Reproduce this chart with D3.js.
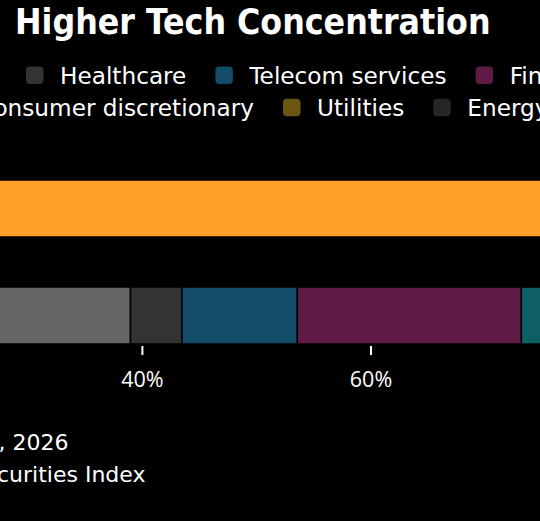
<!DOCTYPE html>
<html>
<head>
    <meta charset="utf-8">
    <title>Higher Tech Concentration</title>
    <script src="https://cdn.jsdelivr.net/npm/d3@7"></script>
    <style>
        html, body {
            margin: 0;
            padding: 0;
            background: #000;
        }

        svg {
            display: block;
            font-family: "DejaVu Sans", sans-serif;
        }

        .title {
            font-family: "DejaVu Sans Condensed", "DejaVu Sans", sans-serif;
            font-stretch: condensed;
            font-weight: bold;
            font-size: 35.3px;
            fill: #fff;
        }

        .legend text {
            font-size: 23.2px;
            fill: #fff;
        }

        .note {
            font-size: 22px;
            fill: #fff;
        }

        .axis text {
            font-family: "Open Sans", sans-serif;
            font-size: 21.5px;
            fill: #fff;
        }

        .axis line {
            stroke: #fff;
            stroke-width: 2;
        }
    </style>
</head>
<body>
<svg width="540" height="521"></svg>
<script>

var markets = ["Index", "Benchmark"],
    sectors = ["Technology", "Industrials", "Healthcare", "Telecom services", "Financials", "Materials",
        "Consumer staples", "Consumer discretionary", "Utilities", "Energy", "Real estate"],
    sectorColors = ["#ffa028", "#666666", "#333333", "#134c68", "#5f1a45", "#0e5f63",
        "#8a8a8a", "#4a4a4a", "#6b5614", "#262626", "#9c6b2a"],
    // share of index weight, %
    indexWeights = [80, 3, 1, 2, 9, 2, 1, 1, 0.5, 0.3, 0.2],
    benchmarkWeights = [24, 15, 4.5, 10.1, 19.6, 6, 4, 9, 3.5, 2.3, 2],
    tickValues = [0, 20, 40, 60, 80, 100],
    legendRows = [
        ["Technology", "Industrials", "Healthcare", "Telecom services", "Financials", "Materials"],
        ["Consumer staples", "Consumer discretionary", "Utilities", "Energy", "Real estate"]
    ],
    noteLines = ["Data as of Jan. 2, 2026", "Source: Bloomberg, Securities Index"];

var svg = d3.select('svg');

var rows = markets.map(function (m, i) {
    var row = {market: m};
    var w = i === 0 ? indexWeights : benchmarkWeights;
    sectors.forEach(function (s, j) {
        row[s] = w[j];
    });
    return row;
});

var x = d3.scaleLinear()
    .domain([0, 100])
    .range([-315.3, 827.7]);

var y = d3.scaleBand()
    .domain(markets)
    .range([180, 344])
    .paddingInner(50 / 107)
    .paddingOuter(0);

var color = d3.scaleOrdinal()
    .domain(sectors)
    .range(sectorColors);

var series = d3.stack().keys(sectors)(rows);

// title
svg.append('text')
    .attr('class', 'title')
    .attr('x', 15)
    .attr('y', 34)
    .text('Higher Tech Concentration');

// legend, each row lined up on one visible item
function drawLegendRow(items, baseline, anchorItem, anchorX) {
    var g = svg.append('g').attr('class', 'legend');
    var cursor = 0, anchorPos = 0;
    items.forEach(function (name) {
        var item = g.append('g').attr('transform', 'translate(' + cursor + ',0)');
        item.append('rect')
            .attr('x', 0)
            .attr('y', baseline - 17)
            .attr('width', 17.5)
            .attr('height', 17.5)
            .attr('rx', 4)
            .attr('fill', color(name));
        var t = item.append('text')
            .attr('x', 34)
            .attr('y', baseline)
            .text(name);
        if (name === anchorItem) anchorPos = cursor;
        cursor += 34 + t.node().getComputedTextLength() + 29;
    });
    g.attr('transform', 'translate(' + (anchorX - anchorPos) + ',0)');
}

drawLegendRow(legendRows[0], 83.5, 'Healthcare', 26);
drawLegendRow(legendRows[1], 115.8, 'Utilities', 283);

// bars
svg.append('g')
    .selectAll('g')
    .data(series)
    .join('g')
    .attr('fill', function (d) {
        return color(d.key);
    })
    .selectAll('rect')
    .data(function (d) {
        return d;
    })
    .join('rect')
    .attr('x', function (d) {
        return x(d[0]);
    })
    .attr('y', function (d) {
        return y(d.data.market);
    })
    .attr('width', function (d) {
        return Math.max(0, x(d[1]) - x(d[0]));
    })
    .attr('height', y.bandwidth())
    .attr('stroke', '#000')
    .attr('stroke-width', 1.5);

// x axis
var axis = svg.append('g')
    .attr('class', 'axis')
    .attr('transform', 'translate(0,346)')
    .call(d3.axisBottom(x)
        .tickValues(tickValues)
        .tickSize(9)
        .tickPadding(10)
        .tickFormat(function (d) {
            return d + '%';
        }));

axis.select('.domain').remove();
axis.selectAll('text')
    .attr('dy', null)
    .attr('y', 40.5);

// notes, cut at the left like the source
svg.selectAll('.note')
    .data(noteLines)
    .join('text')
    .attr('class', 'note')
    .attr('text-anchor', 'end')
    .attr('x', function (d, i) {
        return i === 0 ? 68.5 : 145.5;
    })
    .attr('y', function (d, i) {
        return 449.5 + i * 32.5;
    })
    .text(function (d) {
        return d;
    });

</script>
</body>
</html>
